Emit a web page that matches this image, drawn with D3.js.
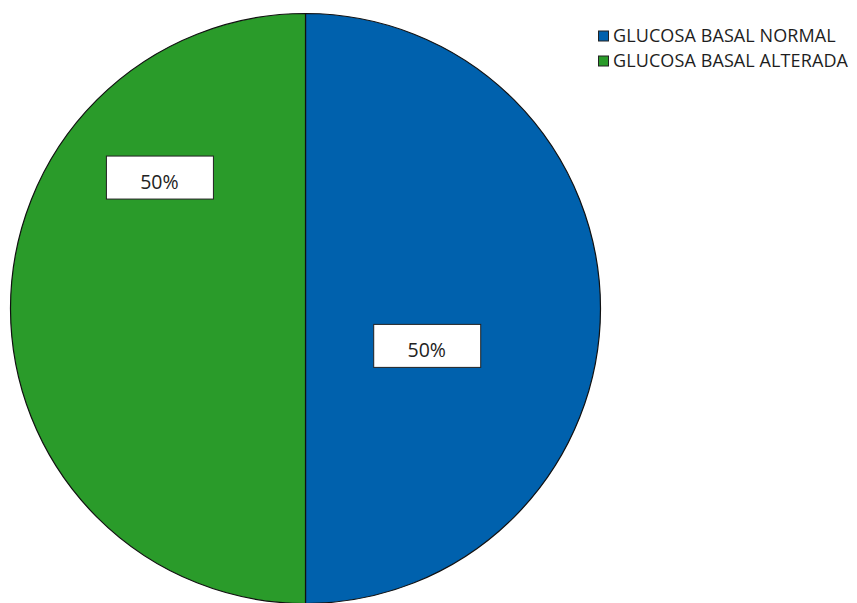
<!DOCTYPE html>
<html>
<head>
<meta charset="utf-8">
<script src="https://cdn.jsdelivr.net/npm/d3@7"></script>
<style>
  html, body { margin: 0; padding: 0; background: #fff; }
  svg { display: block; }
</style>
</head>
<body>
<svg id="chart" width="857" height="603"></svg>
<script>
// Categories and their shares
const categories = ["GLUCOSA BASAL NORMAL", "GLUCOSA BASAL ALTERADA"];
const values = [50, 50];
const colors = ["#0061ad", "#2a9b2a"];

const width = 857, height = 603;
const cx = 305.5, cy = 308.5, radius = 295;

// Label placement per slice: angle (radians, clockwise from top) and fraction of radius
const labelAngles = [1.87, -0.84];
const labelRadii = [0.43, 0.665];

const svg = d3.select("#chart");

const pie = d3.pie().sort(null).value(d => d)(values);
const arc = d3.arc().innerRadius(0).outerRadius(radius);
const color = d3.scaleOrdinal().domain(categories).range(colors);

const g = svg.append("g").attr("transform", `translate(${cx},${cy})`);

g.selectAll("path.slice")
  .data(pie)
  .join("path")
  .attr("class", "slice")
  .attr("d", arc)
  .attr("fill", (d, i) => color(categories[i]))
  .attr("stroke", "#111")
  .attr("stroke-width", 1.2);

// Percentage labels in white boxes
const total = d3.sum(values);
const fmt = d3.format(".0%");
const labels = g.selectAll("g.label")
  .data(pie)
  .join("g")
  .attr("class", "label")
  .attr("transform", (d, i) => {
    const r = radius * labelRadii[i], a = labelAngles[i];
    return `translate(${r * Math.sin(a)},${-r * Math.cos(a)})`;
  });

labels.append("rect")
  .attr("x", -53).attr("y", -21.5)
  .attr("width", 107).attr("height", 43)
  .attr("fill", "#fff")
  .attr("stroke", "#222")
  .attr("stroke-width", 1);

labels.append("text")
  .attr("text-anchor", "middle")
  .attr("y", 4)
  .attr("dy", "0.36em")
  .attr("font-family", "'Open Sans', 'Noto Sans', sans-serif")
  .attr("font-size", 19.5)
  .attr("fill", "#222")
  .text(d => fmt(d.data / total));

// Legend
const legend = svg.append("g").attr("transform", "translate(598,30.5)");
const rows = legend.selectAll("g.row")
  .data(categories)
  .join("g")
  .attr("class", "row")
  .attr("transform", (d, i) => `translate(0,${i * 25})`);

rows.append("rect")
  .attr("x", 0.5).attr("y", 0.5)
  .attr("width", 10).attr("height", 10)
  .attr("fill", d => color(d))
  .attr("stroke", "#222")
  .attr("stroke-width", 1);

rows.append("text")
  .attr("x", 15)
  .attr("y", 5.5)
  .attr("dy", "0.36em")
  .attr("font-family", "'Open Sans', 'Noto Sans', sans-serif")
  .attr("font-size", 18)
  .attr("letter-spacing", 0.1)
  .attr("fill", "#1e1e1e")
  .text(d => d);
</script>
</body>
</html>
